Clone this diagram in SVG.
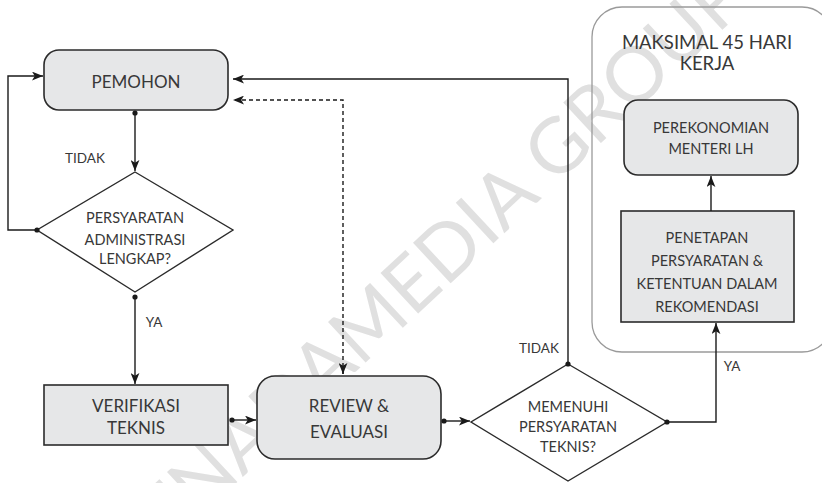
<svg xmlns="http://www.w3.org/2000/svg" width="822" height="483" viewBox="0 0 822 483">
  <defs>
    <marker id="arrow" viewBox="0 0 10 8" refX="10" refY="4" markerWidth="11" markerHeight="9" markerUnits="userSpaceOnUse" orient="auto">
      <path d="M0,0 L10,4 L0,8 L2.5,4 Z" fill="#1a1a1a"/>
    </marker>
    <marker id="dot" viewBox="0 0 6 6" refX="3" refY="3" markerWidth="6" markerHeight="6" markerUnits="userSpaceOnUse">
      <circle cx="3" cy="3" r="2.6" fill="#1a1a1a"/>
    </marker>
  </defs>
  <style>
    .box { fill: #e6e7e8; stroke: #2b2b2b; stroke-width: 1.6; }
    .dia { fill: #ffffff; stroke: #2b2b2b; stroke-width: 1.4; }
    .frame { fill: none; stroke: #9a9a9a; stroke-width: 1.3; }
    .lbl { font-family: "Lato", "Liberation Sans", sans-serif; font-weight: 400; fill: #383838; text-anchor: middle; }
    .t18 { font-size: 17px; }
    .t15 { font-size: 14.5px; }
    .t14 { font-size: 13.5px; }
    .t19 { font-size: 18.5px; }
    .edge { fill: none; stroke: #1a1a1a; stroke-width: 1.4; }
    .dash { stroke-dasharray: 4 3; }
    .wm { font-family: "Lato", "Liberation Sans", sans-serif; font-weight: 400; font-size: 77px; fill: #e0e0e0; }
  </style>

  <rect width="822" height="483" fill="#ffffff"/>

  <!-- background watermark -->
  <text class="wm" transform="translate(98,612) rotate(-43)">PRENADAMEDIA GROUP</text>

  <!-- time-limit frame -->
  <g id="frame-45">
    <rect class="frame" x="592" y="7" width="240" height="345" rx="30"/>
    <text class="lbl t19" x="707" y="49">MAKSIMAL 45 HARI</text>
    <text class="lbl t19" x="707" y="70">KERJA</text>
  </g>

  <g id="pemohon">
    <rect class="box" x="44" y="50" width="184" height="60" rx="15"/>
    <text class="lbl t18" x="136" y="88">PEMOHON</text>
  </g>

  <g id="cek-administrasi">
    <polygon class="dia" points="135,172 233,230 135,292 37,230"/>
    <text class="lbl t15" x="135" y="223">PERSYARATAN</text>
    <text class="lbl t15" x="135" y="245">ADMINISTRASI</text>
    <text class="lbl t15" x="135" y="264">LENGKAP?</text>
  </g>

  <g id="verifikasi">
    <rect class="box" x="44" y="385" width="184" height="60"/>
    <text class="lbl t18" x="136" y="412">VERIFIKASI</text>
    <text class="lbl t18" x="136" y="434">TEKNIS</text>
  </g>

  <g id="review">
    <rect class="box" x="257" y="376" width="184" height="83" rx="18"/>
    <text class="lbl t18" x="349" y="412">REVIEW &amp;</text>
    <text class="lbl t18" x="349" y="438">EVALUASI</text>
  </g>

  <g id="cek-teknis">
    <polygon class="dia" points="568,364 667,422 568,481 471,422"/>
    <text class="lbl t15" x="568" y="412">MEMENUHI</text>
    <text class="lbl t15" x="568" y="432">PERSYARATAN</text>
    <text class="lbl t15" x="568" y="452">TEKNIS?</text>
  </g>

  <g id="penetapan">
    <rect class="box" x="621" y="211" width="173" height="111"/>
    <text class="lbl t15" x="707" y="243">PENETAPAN</text>
    <text class="lbl t15" x="707" y="266">PERSYARATAN &amp;</text>
    <text class="lbl t15" x="707" y="289">KETENTUAN DALAM</text>
    <text class="lbl t15" x="707" y="312">REKOMENDASI</text>
  </g>

  <g id="menteri">
    <rect class="box" x="624" y="100" width="174" height="75" rx="14"/>
    <text class="lbl t15" x="711" y="133">PEREKONOMIAN</text>
    <text class="lbl t15" x="711" y="154">MENTERI LH</text>
  </g>

  <g id="connectors">
    <!-- pemohon to administrative check -->
    <path class="edge" d="M135,113 V171" marker-start="url(#dot)" marker-end="url(#arrow)"/>
    <!-- incomplete: back to pemohon -->
    <path class="edge" d="M37,230 H8 V76 H43" marker-start="url(#dot)" marker-end="url(#arrow)"/>
    <!-- complete: to verification -->
    <path class="edge" d="M135,297 V384" marker-start="url(#dot)" marker-end="url(#arrow)"/>
    <!-- verification to review -->
    <path class="edge" d="M232,420 H256" marker-start="url(#dot)" marker-end="url(#arrow)"/>
    <!-- review to technical check -->
    <path class="edge" d="M444,421 H470" marker-start="url(#dot)" marker-end="url(#arrow)"/>
    <!-- technical check failed: back to pemohon -->
    <path class="edge" d="M568,364 V79 H233" marker-start="url(#dot)" marker-end="url(#arrow)"/>
    <!-- two-way dashed exchange -->
    <path class="edge dash" d="M343,374 V100 H233" marker-end="url(#arrow)"/>
    <path class="edge" d="M343,366 V374" marker-end="url(#arrow)"/>
    <!-- technical check passed -->
    <path class="edge" d="M667,422 H716 V323" marker-start="url(#dot)" marker-end="url(#arrow)"/>
    <!-- penetapan to menteri -->
    <path class="edge" d="M711,211 V176" marker-end="url(#arrow)"/>

    <text class="lbl t14" x="85" y="163">TIDAK</text>
    <text class="lbl t14" x="154" y="327">YA</text>
    <text class="lbl t14" x="539" y="353">TIDAK</text>
    <text class="lbl t14" x="732" y="371">YA</text>
  </g>
</svg>
